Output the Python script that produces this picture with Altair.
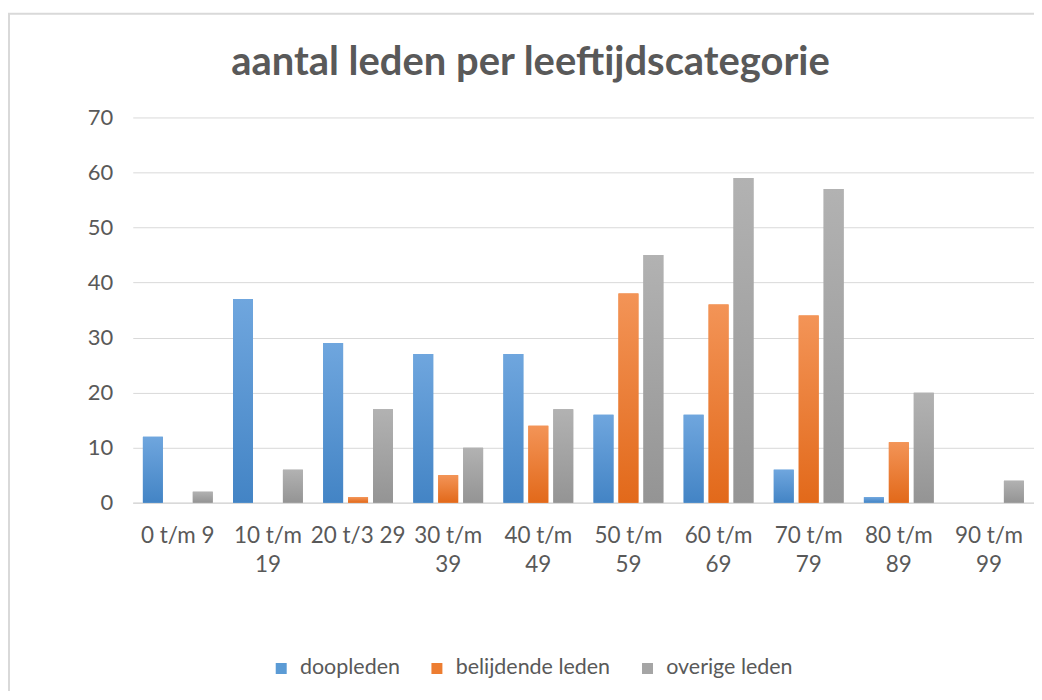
import json
import altair as alt
import pandas as pd

categories = ["0 t/m 9", "10 t/m 19", "20 t/3 29", "30 t/m 39", "40 t/m 49",
              "50 t/m 59", "60 t/m 69", "70 t/m 79", "80 t/m 89", "90 t/m 99"]
label_lines = [["0 t/m 9"], ["10 t/m", "19"], ["20 t/3 29"], ["30 t/m", "39"],
               ["40 t/m", "49"], ["50 t/m", "59"], ["60 t/m", "69"], ["70 t/m", "79"],
               ["80 t/m", "89"], ["90 t/m", "99"]]
series = ["doopleden", "belijdende leden", "overige leden"]
doopleden = [12, 37, 29, 27, 27, 16, 16, 6, 1, 0]
belijdende = [0, 0, 1, 5, 14, 38, 36, 34, 11, 0]
overige = [2, 6, 17, 10, 17, 45, 59, 57, 20, 4]
y_ticks = [0, 10, 20, 30, 40, 50, 60, 70]
title_text = "aantal leden per leeftijdscategorie"

solid = ["#5B9BD5", "#ED7D31", "#A5A5A5"]
grad = [("#6FA6DE", "#4384C5"), ("#F39457", "#E2691A"), ("#B2B2B2", "#949494")]

rows = []
for s, vals in zip(series, [doopleden, belijdende, overige]):
    for c, v in zip(categories, vals):
        rows.append({"categorie": c, "reeks": s, "aantal": v})
df = pd.DataFrame(rows)

expr = "datum.label"
for c, lines in reversed(list(zip(categories, label_lines))):
    expr = f"datum.label == {json.dumps(c)} ? {json.dumps(lines)} : ({expr})"

FONT = "Lato"
TXT = "#595959"

x = alt.X("categorie:N", sort=categories, title=None,
          scale=alt.Scale(paddingInner=0.225, paddingOuter=0.1125),
          axis=alt.Axis(labelExpr=expr, labelAngle=0, labelFontSize=22.5, labelFont=FONT,
                        labelColor=TXT, labelPadding=22, labelLineHeight=29,
                        ticks=False, domainColor="#D9D9D9", domainWidth=1.5,
                        labelBaseline="top"))
xo = alt.XOffset("reeks:N", sort=series,
                 scale=alt.Scale(domain=series, paddingInner=0.2, paddingOuter=0))
y = alt.Y("aantal:Q", title=None,
          scale=alt.Scale(domain=[0, 70], nice=False),
          axis=alt.Axis(values=y_ticks, labelFontSize=22, labelFont=FONT, labelColor=TXT,
                        labelPadding=20, ticks=False, domain=False,
                        gridColor="#D9D9D9", gridWidth=1))

base = alt.Chart(df)

legend_layer = base.mark_bar().encode(
    x=x, xOffset=xo, y=y,
    color=alt.Color("reeks:N", sort=series,
                    scale=alt.Scale(domain=series, range=solid),
                    legend=alt.Legend(title=None, orient="none", legendX=138, legendY=541,
                                      direction="horizontal", symbolType="square",
                                      symbolSize=121, symbolStrokeWidth=0,
                                      labelFontSize=21.5, labelFont=FONT, labelColor=TXT,
                                      labelOffset=8, columnPadding=26)),
)

layers = [legend_layer]
for s, (top, bot) in zip(series, grad):
    layers.append(
        base.transform_filter(alt.datum.reeks == s).mark_bar(
            color=alt.Gradient(gradient="linear", x1=0, x2=0, y1=0, y2=1,
                               stops=[alt.GradientStop(color=top, offset=0),
                                      alt.GradientStop(color=bot, offset=1)])
        ).encode(x=x, xOffset=xo, y=y)
    )

border = alt.Chart(pd.DataFrame({"k": [0]})).mark_rect(
    fill=None, stroke="#D9D9D9", strokeWidth=2
).encode(x=alt.value(-124), x2=alt.value(3000), y=alt.value(-104), y2=alt.value(3000))

title = alt.Chart(pd.DataFrame({"t": [title_text]})).mark_text(
    font=FONT, fontSize=40, fontWeight="bold", color=TXT,
    align="center", baseline="alphabetic"
).encode(x=alt.value(398.5), y=alt.value(-43), text="t:N")

chart = alt.layer(border, title, *layers).properties(
    width=903, height=386,
    autosize=alt.AutoSizeParams(type="none"),
    padding={"left": 125, "top": 109, "right": 0, "bottom": 188},
).configure_view(stroke=None)

chart.save("out.html", embed_options={"renderer": "svg", "actions": False})
